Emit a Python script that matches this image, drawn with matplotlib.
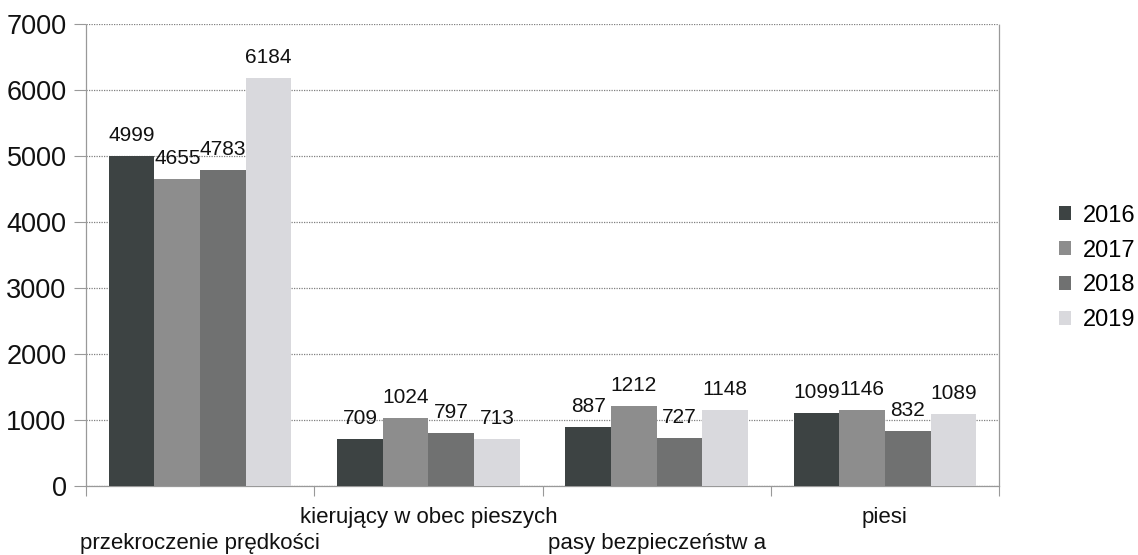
import matplotlib
matplotlib.use("Agg")
import matplotlib.pyplot as plt
import numpy as np

categories = ["przekroczenie prędkości", "kierujący w obec pieszych", "pasy bezpieczeństw a", "piesi"]
years = ["2016", "2017", "2018", "2019"]
v2016 = [4999, 709, 887, 1099]
v2017 = [4655, 1024, 1212, 1146]
v2018 = [4783, 797, 727, 832]
v2019 = [6184, 713, 1148, 1089]
series = [v2016, v2017, v2018, v2019]
colors = ["#3d4343", "#8d8d8d", "#707171", "#d9d9dd"]
yticks = [0, 1000, 2000, 3000, 4000, 5000, 6000, 7000]

plt.rcParams['font.family'] = ['Liberation Sans', 'DejaVu Sans']

fig = plt.figure(figsize=(11.38, 5.55), dpi=100)
ax = fig.add_axes([86/1138, 1-486/555, (999-86)/1138, (486-24)/555])

x = np.arange(len(categories))
w = 0.2
for i, (vals, c, yr) in enumerate(zip(series, colors, years)):
    pos = x - 0.3 + i*w
    bars = ax.bar(pos, vals, width=w, color=c, label=yr, zorder=3)
    for b, v in zip(bars, vals):
        ax.annotate(str(v), (b.get_x()+b.get_width()/2, v), xytext=(0, 8),
                    textcoords='offset points', ha='center', va='bottom',
                    fontsize=15, color='#111111', zorder=4)

ax.set_xlim(-0.5, 3.5)
ax.set_ylim(0, 7000)
ax.set_yticks(yticks)
ax.set_yticklabels([str(t) for t in yticks], fontsize=19.5, color='#111111')
ax.yaxis.grid(True, linestyle=(0, (1, 1)), color='#808080', linewidth=0.9, zorder=0)
ax.tick_params(axis='y', length=9, width=0.8, color='#999999', pad=5)

ax.set_xticks(np.arange(-0.5, 3.6, 1.0))
ax.set_xticklabels([])
ax.tick_params(axis='x', which='major', length=7, width=0.8, color='#999999')
ax.set_xticks(x, minor=True)
labs = [("\n" + c) if i % 2 == 0 else c for i, c in enumerate(categories)]
ax.set_xticklabels(labs, minor=True, fontsize=16, color='#111111', linespacing=1.35)
ax.tick_params(axis='x', which='minor', length=0, pad=15)

for s in ['left', 'right', 'bottom']:
    ax.spines[s].set_linestyle((0, (1, 1)))
    ax.spines[s].set_color('#999999')
    ax.spines[s].set_linewidth(0.9)
ax.spines['top'].set_visible(False)

fig.legend(loc='center left', bbox_to_anchor=(1050/1138, 1-268/555), frameon=False,
           fontsize=17, handlelength=0.5, handleheight=0.5, handletextpad=0.5,
           labelspacing=0.55, borderaxespad=0)

fig.savefig("out.png", dpi=100)
